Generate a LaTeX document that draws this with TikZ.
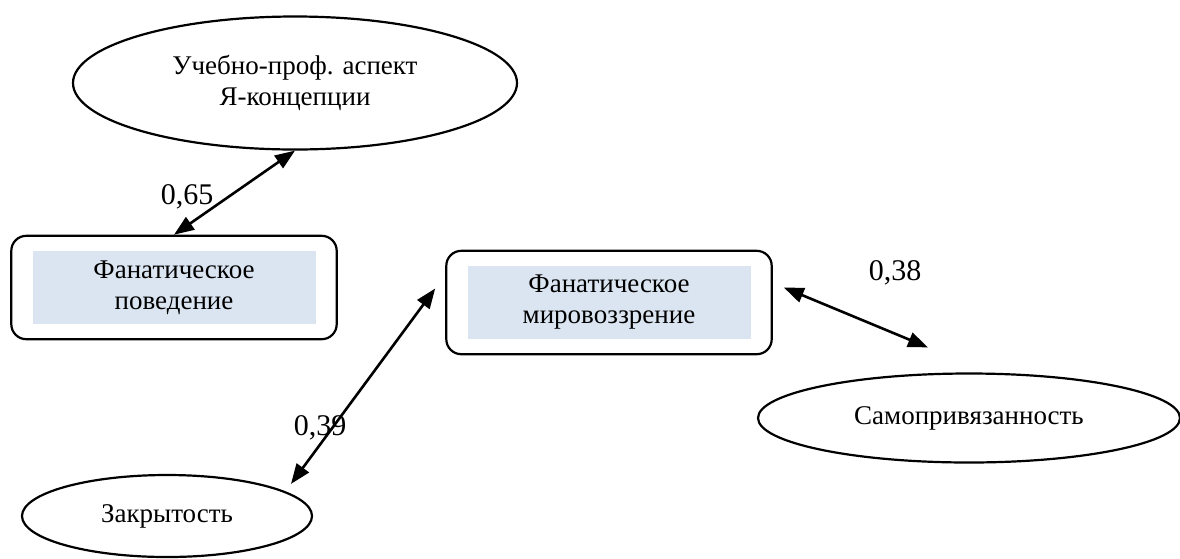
\documentclass[tikz,border=0pt]{standalone}
\usepackage{fontspec}
\setmainfont{Liberation Serif}
\usetikzlibrary{shapes.geometric,fit,arrows.meta}
\definecolor{boxblue}{HTML}{DBE5F1}

\begin{document}
\begin{tikzpicture}[x=1pt,y=-1pt,
		>={Triangle[length=20pt,width=15pt]},
		every node/.style={font=\fontsize{27}{31}\selectfont},
		factorell/.style={draw,ellipse,line width=2.2pt,inner sep=0pt,align=center},
		innerfill/.style={fill=boxblue,minimum width=283pt,minimum height=73pt,inner sep=0pt,align=center},
		framebox/.style={draw,rounded corners=15pt,line width=2.2pt,inner xsep=21pt,inner ysep=15pt},
		corr/.style={<->,line width=2.6pt},
		coef/.style={font=\fontsize{30}{34}\selectfont}]
		\useasboundingbox (0,0) rectangle (1180,558);

		% scales
		\node[factorell,minimum width=444pt,minimum height=133pt] (self) at (295,83) {Учебно-проф. аспект\\Я-концепции};
		\node[factorell,minimum width=422pt,minimum height=89pt] (sam) at (969,418) {Самопривязанность};
		\node[factorell,minimum width=290pt,minimum height=82pt] (zak) at (167,516) {Закрытость};

		% fanaticism
		\node[innerfill] (behtext) at (174,287.5) {Фанатическое\\поведение};
		\node[framebox,fit=(behtext)] (beh) {};
		\node[innerfill] (wvtext) at (609,302.5) {Фанатическое\\мировоззрение};
		\node[framebox,fit=(wvtext)] (wv) {};

		\draw[corr] (beh.north) -- (self.south);
		\draw[corr] ([xshift=124pt,yshift=-10pt]zak.north) -- ([xshift=-10pt,yshift=14pt]wv.west);
		\draw[corr] ([xshift=11pt,yshift=15pt]wv.east) -- ([xshift=-41pt,yshift=25pt]sam.north);

		\node[coef] (c1) at (187,197) {0,65};
		\node[coef] (c2) at (320,428) {0,39};
		\node[coef] (c3) at (895,273) {0,38};
	\end{tikzpicture}
\end{document}
